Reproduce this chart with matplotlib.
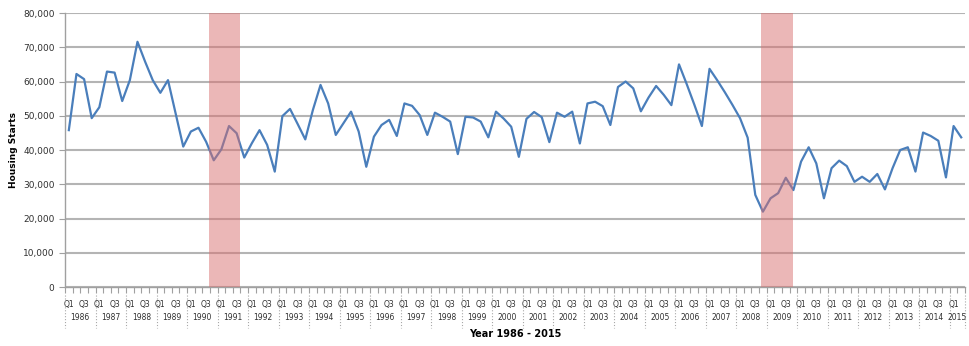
import numpy as np
import matplotlib
matplotlib.use('Agg')
import matplotlib.pyplot as plt
from matplotlib.ticker import FuncFormatter
import matplotlib.transforms as mtransforms

# quarterly housing starts, 1986 Q1 - 2015 Q2
years = list(range(1986, 2016))
quarters = ['Q1', 'Q2', 'Q3', 'Q4']
starts = [45800, 62200, 60700, 49300, 52500, 62900, 62600, 54300,
          60400, 71600, 65800, 60400, 56700, 60400, 50700, 41000,
          45400, 46500, 42400, 37000, 40200, 47000, 44900, 37800,
          42000, 45800, 41500, 33700, 49900, 52000, 47600, 43100,
          51700, 59000, 53600, 44400, 47800, 51200, 45400, 35100,
          43900, 47300, 48800, 44100, 53600, 52900, 50200, 44400,
          50900, 49700, 48300, 38800, 49700, 49500, 48300, 43700,
          51200, 49200, 46800, 38000, 49100, 51100, 49600, 42300,
          50900, 49700, 51200, 41900, 53600, 54100, 52800, 47300,
          58400, 60000, 58000, 51300, 55300, 58700, 56100, 53100,
          65000, 59300, 53300, 47000, 63700, 60400, 56900, 53200,
          49300, 43600, 26900, 22000, 25900, 27400, 31900, 28300,
          36600, 40800, 36100, 25900, 34700, 36900, 35300, 30700,
          32200, 30700, 33000, 28500, 34700, 40000, 40800, 33700,
          45100, 44100, 42700, 32000, 47000, 43700]
# recession bands (in quarter index units)
recessions = [(18.4, 22.5), (90.7, 94.9)]

n = len(starts)
x = np.arange(n)
qlabels = [quarters[i % 4] if i % 2 == 0 else '' for i in range(n)]

fig = plt.figure(figsize=(9.69, 3.46), dpi=100)
ax = fig.add_axes([0.0671, 0.1705, 0.9288, 0.7919])

ax.plot(x, starts, color='#4a7ebb', linewidth=1.6, zorder=2)
for a, b in recessions:
    ax.axvspan(a, b, color='#d87070', alpha=0.5, linewidth=0, zorder=3)

ax.set_xlim(-0.5, n - 0.5)
ax.set_ylim(0, 80000)
ax.set_yticks(np.arange(0, 80001, 10000))
ax.yaxis.set_major_formatter(FuncFormatter(lambda v, p: '{:,.0f}'.format(v)))
ax.grid(axis='y', color='#b4b4b4', linewidth=1.5, zorder=1)
ax.set_axisbelow(True)

ax.set_xticks(x)
ax.set_xticklabels(qlabels, fontsize=5.5, color='#303030')
ax.set_xticks(np.arange(-0.5, n, 1), minor=True)
ax.tick_params(axis='x', which='major', length=0, pad=9)
ax.tick_params(axis='x', which='minor', length=4, color='#a0a0a0', width=0.8)
ax.tick_params(axis='y', length=4, color='#a0a0a0', labelsize=6.5, labelcolor='#303030')

for s in ['top', 'right']:
    ax.spines[s].set_visible(False)
for s in ['left', 'bottom']:
    ax.spines[s].set_color('#a0a0a0')
    ax.spines[s].set_linewidth(1.0)

# year row under the quarter labels
trans = mtransforms.blended_transform_factory(ax.transData, ax.transAxes)
for k, yr in enumerate(years):
    first = 4 * k
    last = min(first + 4, n)
    ax.text((first + last - 1) / 2, -0.113, str(yr), transform=trans,
            ha='center', va='center', fontsize=5.5, color='#303030')
    ax.plot([first - 0.5, first - 0.5], [-0.03, -0.15], transform=trans,
            color='#a8a8a8', linewidth=0.8, linestyle=':', clip_on=False)
ax.plot([n - 0.5, n - 0.5], [-0.03, -0.15], transform=trans,
        color='#a8a8a8', linewidth=0.8, linestyle=':', clip_on=False)

ax.set_xlabel('Year 1986 - 2015', fontsize=7, fontweight='bold')
ax.xaxis.set_label_coords(0.5, -0.155, transform=ax.transAxes)
ax.xaxis.label.set_va('top')
ax.set_ylabel('Housing Starts', fontsize=6.5, fontweight='bold')
ax.yaxis.set_label_coords(-0.052, 0.5)

fig.savefig('out.png', dpi=100)
